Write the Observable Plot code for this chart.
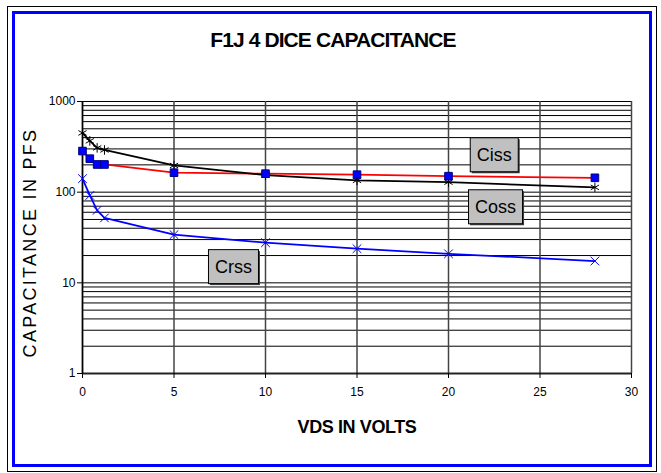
<!DOCTYPE html>
<html><head><meta charset="utf-8">
<script src="https://cdn.jsdelivr.net/npm/d3@7"></script>
<script src="https://cdn.jsdelivr.net/npm/@observablehq/plot@0.6"></script>
<style>
body{margin:0;background:#fff;font-family:"Liberation Sans",Arial,sans-serif;}
#wrap{position:relative;width:661px;height:473px;overflow:hidden;}
#outer{position:absolute;left:7px;top:6px;width:648px;height:464px;border:1px solid #000;}
#inner{position:absolute;left:12px;top:11px;width:634px;height:450px;border:3px solid #0000ff;}
#chart{position:absolute;left:0;top:0;}
</style></head><body>
<div id="wrap"><div id="outer"></div><div id="inner"></div><div id="chart"></div></div>
<script>
// data
const vds = [0, 0.4, 0.8, 1.2, 5, 10, 15, 20, 28];
const blackSeries = [450, 368, 308, 292, 197, 154, 135, 129, 113];
const redSeries = [284, 234, 202, 202, 164, 160, 156, 150, 144];
const blueSeries = [141, 92, 63, 52, 34, 27.7, 23.8, 20.9, 17.4];
const xTicks = [0, 5, 10, 15, 20, 25, 30];
const yTicks = [1, 10, 100, 1000];
const labelNames = ["Ciss", "Coss", "Crss"];
const labelX = [22.5, 22.57, 8.25];
const labelY = [257, 68.6, 15.0];
const titleText = "F1J 4 DICE CAPACITANCE";
const xTitle = "VDS IN VOLTS";
const yTitle = "CAPACITANCE IN PFS";

const rows = vds.map((v, i) => ({v, black: blackSeries[i], red: redSeries[i], blue: blueSeries[i]}));
const labels = labelNames.map((n, i) => ({n, x: labelX[i], y: labelY[i]}));
const minor = d3.scaleLog().domain([1, 1000]).ticks();

const plot = Plot.plot({
  width: 661, height: 473,
  marginLeft: 82, marginRight: 30, marginTop: 101, marginBottom: 100,
  style: {fontFamily: "'Liberation Sans', Arial, sans-serif", background: "transparent", color: "#000"},
  x: {domain: [0, 30]},
  y: {type: "log", domain: [1, 1000]},
  marks: [
    Plot.ruleY(minor, {stroke: "#000", strokeWidth: 1}),
    Plot.ruleX(xTicks, {stroke: "#444", strokeWidth: 1.5}),
    Plot.ruleY([1], {stroke: "#222", strokeWidth: 2}),
    Plot.ruleX([0], {stroke: "#000", strokeWidth: 1.5}),
    Plot.axisX({ticks: xTicks, tickSize: 5, tickPadding: 9, fontSize: 12, label: null, tickFormat: d => String(d)}),
    Plot.axisY({ticks: yTicks, tickSize: 5, tickPadding: 2, fontSize: 12, label: null, tickFormat: d => String(d)}),
    Plot.line(rows, {x: "v", y: "red", stroke: "#ff0000", strokeWidth: 1.75}),
    Plot.line(rows, {x: "v", y: "black", stroke: "#000", strokeWidth: 1.75}),
    Plot.line(rows, {x: "v", y: "blue", stroke: "#0000ff", strokeWidth: 1.75}),
    Plot.dot(rows, {x: "v", y: "black", symbol: "asterisk", r: 4.5, stroke: "#000", strokeWidth: 1}),
    Plot.dot(rows, {x: "v", y: "blue", symbol: "times", r: 4, stroke: "#0000ff", strokeWidth: 1}),
    Plot.dot(rows, {x: "v", y: "red", symbol: "square", r: 4.3, fill: "#0000ff", stroke: "#000080", strokeWidth: 1}),
    Plot.text(labels, {x: "x", y: "y", text: "n", fontSize: 18, fill: "#000", className: "lbl"}),
    Plot.text([titleText], {frameAnchor: "top", dx: -24, dy: -61, textAnchor: "middle", lineAnchor: "middle", fontSize: 21, fontWeight: "bold", className: "ttl"}),
    Plot.text([xTitle], {frameAnchor: "bottom", dy: 54, textAnchor: "middle", lineAnchor: "middle", fontSize: 18, fontWeight: "bold", className: "xt"}),
    Plot.text([yTitle], {frameAnchor: "left", dx: -52, dy: 5, rotate: -90, textAnchor: "middle", lineAnchor: "middle", fontSize: 18, className: "yt"})
  ]
});
document.getElementById("chart").appendChild(plot);
d3.select(plot).selectAll("g.ttl text").attr("letter-spacing", "-0.9px");
d3.select(plot).selectAll("g.xt text").attr("letter-spacing", "-0.4px");
d3.select(plot).selectAll("g.yt text").attr("letter-spacing", "2.3px");
d3.select(plot).selectAll("g.lbl text").each(function() {
  const b = this.getBBox();
  const t = this.getAttribute("transform");
  const padX = 6.5, h = 34;
  const cy = b.y + b.height / 2;
  const parent = this.parentNode;
  const sh = document.createElementNS("http://www.w3.org/2000/svg", "rect");
  sh.setAttribute("x", b.x - padX + 1.5); sh.setAttribute("y", cy - h / 2 + 1.5);
  sh.setAttribute("width", b.width + 2 * padX); sh.setAttribute("height", h);
  sh.setAttribute("fill", "#404040");
  if (t) sh.setAttribute("transform", t);
  const r = document.createElementNS("http://www.w3.org/2000/svg", "rect");
  r.setAttribute("x", b.x - padX); r.setAttribute("y", cy - h / 2);
  r.setAttribute("width", b.width + 2 * padX); r.setAttribute("height", h);
  r.setAttribute("fill", "#c0c0c0"); r.setAttribute("stroke", "#000"); r.setAttribute("stroke-width", 1);
  if (t) r.setAttribute("transform", t);
  parent.insertBefore(sh, this);
  parent.insertBefore(r, this);
});
</script>
</body></html>
